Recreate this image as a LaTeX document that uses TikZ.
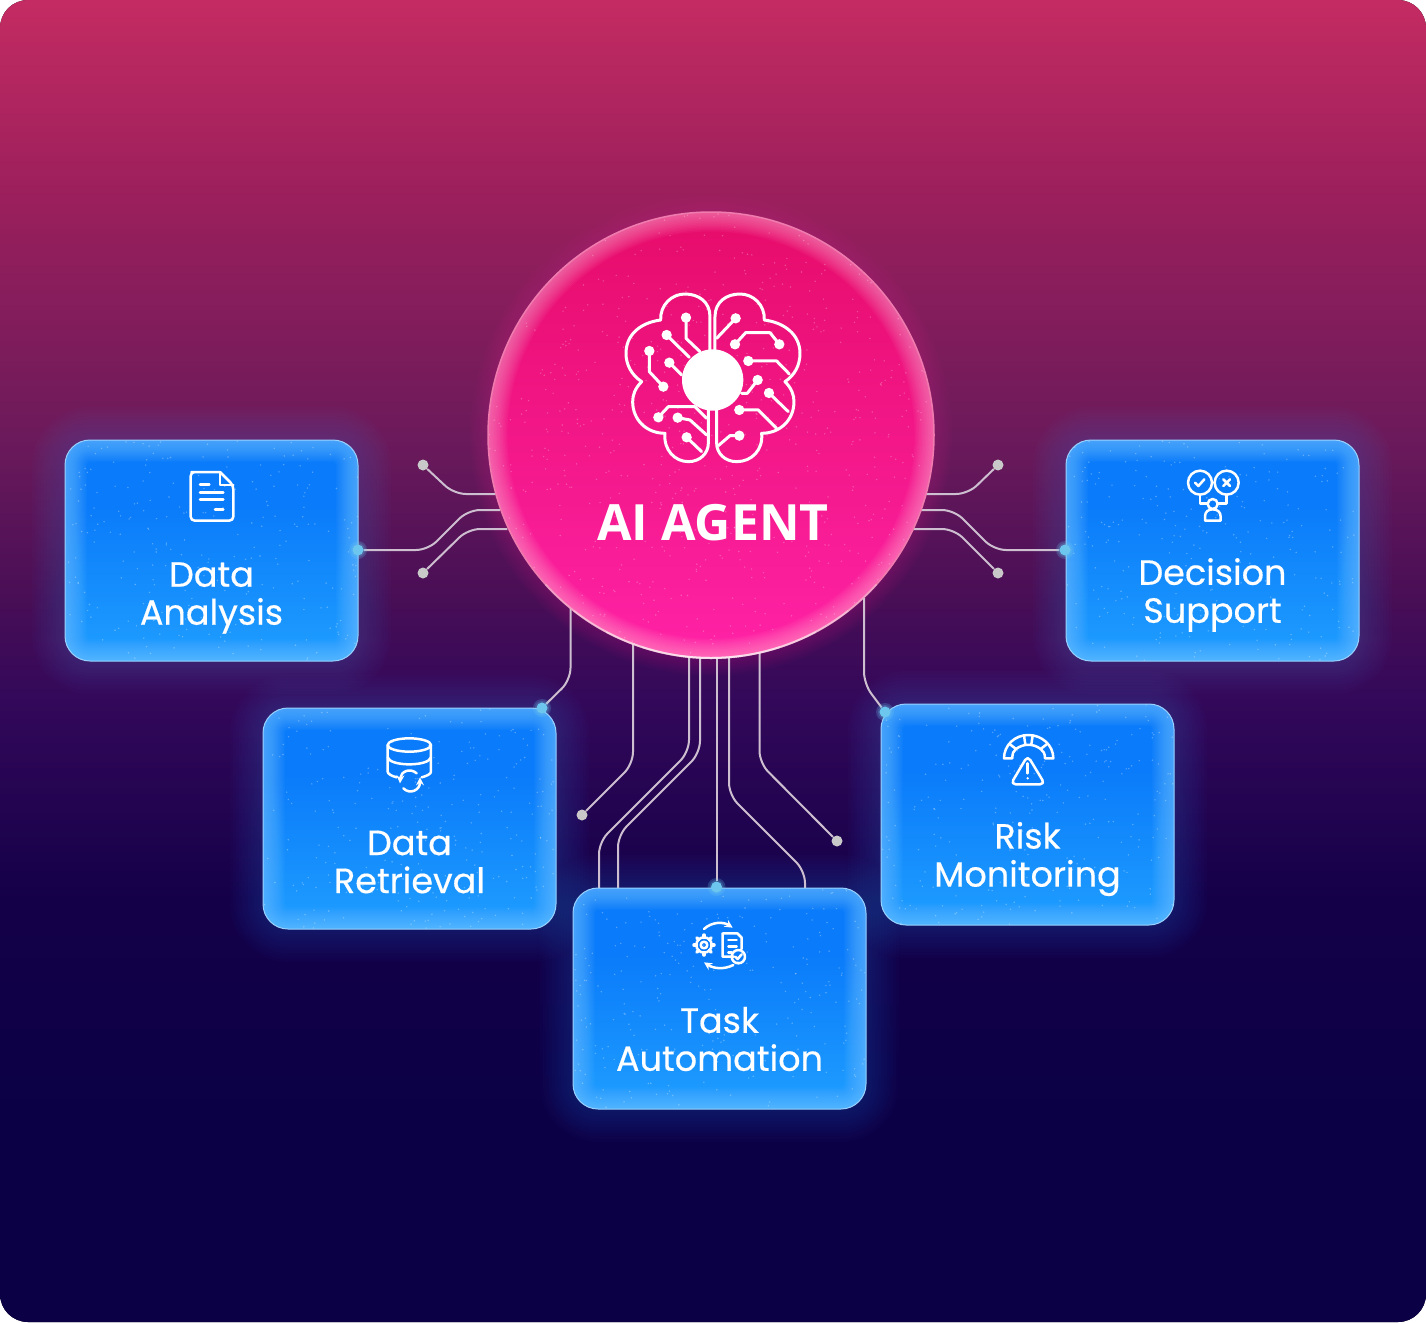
\documentclass[tikz,border=0pt]{standalone}
\usepackage{fontspec}
\usepackage{tikz}
\usetikzlibrary{positioning}
\setmainfont{Open Sans}
\newfontfamily\cardfont[FakeBold=0.45]{Poppins}

\definecolor{bgA}{HTML}{C42B62}
\definecolor{bgB}{HTML}{9A1F5C}
\definecolor{bgC}{HTML}{6B1A5B}
\definecolor{bgD}{HTML}{480E56}
\definecolor{bgE}{HTML}{33085A}
\definecolor{bgF}{HTML}{140049}
\definecolor{bgG}{HTML}{0B0046}
\definecolor{cardtop}{HTML}{0A7BFA}
\definecolor{cardbot}{HTML}{1F9EFF}
\definecolor{cardedge}{HTML}{7CCBFF}
\definecolor{cardrim}{HTML}{9AD2FF}
\definecolor{cardglow}{HTML}{3F86F5}
\definecolor{hubtop}{HTML}{E60C6A}
\definecolor{hubbot}{HTML}{FF22A6}
\definecolor{hubedge}{HTML}{FFB4D4}
\definecolor{hubrim}{HTML}{F07BAE}
\definecolor{hubglow}{HTML}{C5208C}
\definecolor{wirecol}{HTML}{CDBFD0}
\definecolor{dotcol}{HTML}{C9C9C9}
\definecolor{portcol}{HTML}{6CC6EE}

\pgfdeclareverticalshading{bgshade}{100bp}{color(0bp)=(bgG); color(25bp)=(bgG); color(33bp)=(bgG); color(41bp)=(bgF); color(48.5bp)=(bgE); color(52.3bp)=(bgD); color(58.4bp)=(bgC); color(67.4bp)=(bgB); color(75bp)=(bgA); color(100bp)=(bgA)}
\pgfdeclareverticalshading{cardshade}{100bp}{color(0bp)=(cardbot); color(25bp)=(cardbot); color(60bp)=(cardtop); color(75bp)=(cardtop); color(100bp)=(cardtop)}
\pgfdeclareverticalshading{hubshade}{100bp}{color(0bp)=(hubbot); color(25bp)=(hubbot); color(75bp)=(hubtop); color(100bp)=(hubtop)}

\pgfdeclarelayer{bg}
\pgfdeclarelayer{wires}
\pgfsetlayers{bg,wires,main}
\pgfmathsetseed{4711}

\tikzset{
  card/.style={rectangle, rounded corners=25, minimum width=293, minimum height=221, inner sep=0, outer sep=0,
    shading=cardshade, draw=cardrim, line width=1,
    path picture={
      \foreach \g in {2,4,...,44}
        \draw[cardedge, opacity=.04, line width=\g, rounded corners=25]
          (path picture bounding box.south west) rectangle (path picture bounding box.north east);
      \foreach \s in {1,...,260} {
        \pgfmathsetmacro{\rx}{146*rand}
        \pgfmathsetmacro{\ry}{110*rand}
        \fill[white, opacity=.3] ([shift={(\rx,\ry)}]path picture bounding box.center) circle[radius=.8];
      }
    }},
  cardtext/.style={font=\cardfont\fontsize{35}{38}\selectfont, text=white, align=center, inner sep=0},
  hubnode/.style={circle, minimum size=446, inner sep=0, outer sep=0, shading=hubshade, draw=hubrim, line width=1.5,
    path picture={
      \foreach \g in {3,6,...,39}
        \draw[hubedge, opacity=.05, line width=\g] (path picture bounding box.center) circle[radius=223];
      \foreach \s in {1,...,800} {
        \pgfmathsetmacro{\rx}{222*rand}
        \pgfmathsetmacro{\ry}{222*rand}
        \fill[white, opacity=.25] ([shift={(\rx,\ry)}]path picture bounding box.center) circle[radius=.8];
      }
    }},
  hubtext/.style={font=\fontsize{50}{50}\selectfont\bfseries, text=white, inner sep=0},
  wire/.style={wirecol, line width=2, rounded corners=12},
  enddot/.style={circle, fill=dotcol, minimum size=11, inner sep=0},
  port/.style={circle, fill=portcol, minimum size=11, inner sep=0},
  brain/.style={white, line width=3, line cap=round, line join=round},
  icon/.style={white, line width=2.5, line cap=round, line join=round},
}

\begin{document}
\begin{tikzpicture}[x=1pt, y=-1pt]
\useasboundingbox (0,0) rectangle (1426,1322);

% the five cards and the hub
\node[hubnode] (hub) at (711,435) {};
\node[card] (analysis) at (211.5,550.5) {};
\node[card] (support) at (1212.5,550.5) {};
\node[card] (retrieval) at (409.5,818.5) {};
\node[card] (monitor) at (1027.5,814.5) {};
\node[card] (task) at (719.5,998.5) {};

\foreach \a in {0,10,...,40}
  \draw[white, opacity=.28, line width=2] (hub.center) ++(-222-\a:223) arc[start angle=-222-\a, end angle=-318+\a, radius=223];

\begin{pgfonlayer}{bg}
\fill[shading=bgshade, rounded corners=28] (0,0) rectangle (1426,1322);
\foreach \g in {4,8,...,36}
  \draw[hubglow, opacity=.035, line width=\g] (hub.center) circle[radius=223];
\foreach \card in {analysis,support,retrieval,monitor,task}
  \foreach \g in {6,12,...,66}
    \draw[cardglow, opacity=.02, line width=\g, rounded corners=25, yshift=-10]
      (\card.south west) rectangle (\card.north east);
\end{pgfonlayer}

% card labels
\node[cardtext] (analysisT) at (211.5,598) {Data\\Analysis};
\node[cardtext] (supportT) at (1212.5,595) {Decision\\Support};
\node[cardtext] (retrievalT) at (409.5,862) {Data\\Retrieval};
\node[cardtext] (monitorT) at (1027.5,859) {Risk\\Monitoring};
\node[cardtext] (taskT) at (719.5,1039) {Task\\Automation};
\node[hubtext] (hubT) at (713,523) {AI AGENT};

% free ends
\node[enddot] (dotLa) at (423,465) {};
\node[enddot] (dotLb) at (423,573) {};
\node[enddot] (dotRa) at (998,465) {};
\node[enddot] (dotRb) at (998,573) {};
\node[enddot] (dotBa) at (582,815) {};
\node[enddot] (dotBb) at (837,841) {};

\foreach \name/\x/\y in {portA/358/550,portS/1065/550,portR/542/708,portM/885/712,portT/716.5/887} {
  \foreach \g in {16,12,8}
    \fill[portcol, opacity=.22] (\x,\y) circle[radius=\g/2+1];
  \node[port] (\name) at (\x,\y) {};
}

\begin{pgfonlayer}{wires}
\draw[wire] (dotLa) -- (454,494) -- (hub.195.34 |- 0,494);
\draw[wire] (portA) -- (428,550) -- (468,510) -- (hub.199.65 |- 0,510);
\draw[wire] (dotLb) -- (468,529) -- (hub.204.93 |- 0,529);
\draw[wire] (dotRa) -- (968,494) -- (hub.344.66 |- 0,494);
\draw[wire] (portS) -- (994,550) -- (954,510) -- (hub.340.35 |- 0,510);
\draw[wire] (dotRb) -- (954,529) -- (hub.335.07 |- 0,529);
\draw[wire] (portR) -- (570.5,680) -- (hub.230.95 -| 570.5,0);
\draw[wire] (dotBa) -- (633,764) -- (hub.249.53 -| 633,0);
\draw[wire] (task.north -| 599,0) -- (599,842) -- (689,752) -- (hub.264.34 -| 689,0);
\draw[wire] (task.north -| 618,0) -- (618,835) -- (700,753) -- (hub.267.17 -| 700,0);
\draw[wire] (portT) -- (hub.271.41 -| 716.5,0);
\draw[wire] (task.north -| 805,0) -- (805,871) -- (729,795) -- (hub.274.63 -| 729,0);
\draw[wire] (dotBb) -- (759.5,763) -- (hub.282.56 -| 759.5,0);
\draw[wire] (portM) -- (864,684) -- (hub.313.33 -| 864,0);
\end{pgfonlayer}

% brain
\begin{scope}[shift={(600,270)}, scale=.3333]
\fill[white] (338,330) circle[radius=92];
\draw[brain] (330,240) -- (330,140) .. controls (330,95) and (295,72) .. (255,72)
  .. controls (215,72) and (180,105) .. (182,150)
  .. controls (120,158) and (78,195) .. (78,250)
  .. controls (78,285) and (95,315) .. (125,335)
  .. controls (105,355) and (98,375) .. (98,395)
  .. controls (98,450) and (140,490) .. (195,490)
  .. controls (190,540) and (225,575) .. (265,575)
  .. controls (300,575) and (325,550) .. (325,520) -- (325,420);
\draw[brain] (345,240) -- (345,140) .. controls (345,95) and (380,72) .. (420,72)
  .. controls (460,72) and (495,105) .. (493,150)
  .. controls (555,158) and (600,195) .. (600,250)
  .. controls (600,285) and (585,315) .. (555,335)
  .. controls (575,355) and (582,375) .. (582,395)
  .. controls (582,450) and (540,490) .. (485,490)
  .. controls (490,540) and (455,575) .. (410,575)
  .. controls (375,575) and (350,550) .. (350,520) -- (350,420);
\draw[brain] (258,143) -- (258,205) -- (300,245);
\draw[brain] (200,195) -- (268,262);
\draw[brain] (208,278) -- (245,315);
\draw[brain] (148,243) -- (148,305) -- (190,350);
\draw[brain] (175,442) -- (205,410) -- (285,410) -- (320,445);
\draw[brain] (233,443) -- (270,450) -- (320,495);
\draw[brain] (260,502) -- (305,545);
\draw[brain] (407,145) -- (350,205);
\draw[brain] (405,223) -- (437,188) -- (510,188) -- (538,223);
\draw[brain] (445,273) -- (530,273) -- (568,312);
\draw[brain] (473,330) -- (442,370) -- (425,370);
\draw[brain] (507,369) -- (565,425);
\draw[brain] (418,420) -- (475,420) -- (530,475);
\draw[brain] (418,497) -- (390,497) -- (355,527);
\foreach \x/\y in {258/143,200/195,208/278,148/243,190/350,175/442,233/443,260/502,407/145,405/223,538/223,445/273,473/330,507/369,418/420,418/497}
  \fill[white] (\x,\y) circle[radius=15.5];
\end{scope}

% document icon
\begin{scope}[shift={(170,460)}, scale=.3333]
\draw[icon, rounded corners=4] (150,36) -- (76,36) -- (62,36) -- (62,182) -- (190,182) -- (190,76) -- (150,36);
\draw[icon] (150,36) -- (150,75) -- (190,75);
\draw[icon] (90,73) -- (118,73) (90,97) -- (160,97) (90,118) -- (160,118) (135,148) -- (160,148);
\end{scope}

% decision icon
\begin{scope}[shift={(1170,460)}, scale=.3333]
\draw[icon] (90,68) circle[radius=36] (170,68) circle[radius=36];
\draw[icon] (75,68) -- (85,78) -- (103,58);
\draw[icon] (160,58) -- (180,78) (180,58) -- (160,78);
\draw[icon] (90,104) -- (90,130) -- (113,130) (170,104) -- (170,130) -- (143,130);
\draw[icon] (128,132) circle[radius=15];
\draw[icon] (105,182) -- (105,170) .. controls (105,155) and (115,148) .. (128,148)
  .. controls (141,148) and (152,155) .. (152,170) -- (152,182) -- cycle;
\end{scope}

% database icon
\begin{scope}[shift={(370,730)}, scale=.3333]
\draw[icon] (118,45) ellipse[x radius=65, y radius=20];
\draw[icon] (53,45) -- (53,125) .. controls (53,132) and (65,138) .. (80,142);
\draw[icon] (183,45) -- (183,125) .. controls (183,132) and (170,138) .. (155,142);
\draw[icon] (53,82) .. controls (60,110) and (176,110) .. (183,82);
\draw[icon, -stealth] (140,130) .. controls (120,112) and (92,125) .. (90,160);
\draw[icon, -stealth] (100,175) .. controls (120,195) and (150,180) .. (150,142);
\end{scope}

% task icon
\begin{scope}[shift={(680,915)}, scale=.3333]
\draw[icon] (72,90) circle[radius=23] (72,90) circle[radius=10];
\foreach \a in {0,45,...,315}
  \draw[icon, line width=3.5] (72,90) ++(\a:23) -- ++(\a:7);
\draw[icon] (162,125) -- (128,125) -- (128,55) -- (172,55) -- (185,68) -- (185,102);
\draw[icon] (145,75) -- (170,75) (145,95) -- (170,95) (145,112) -- (155,112);
\draw[icon] (175,125) circle[radius=20];
\draw[icon] (166,125) -- (173,132) -- (185,118);
\draw[icon, -stealth] (72,42) .. controls (95,20) and (130,20) .. (158,38);
\draw[icon, -stealth] (160,150) .. controls (130,165) and (100,160) .. (72,142);
\end{scope}

% risk icon
\begin{scope}[shift={(990,725)}, scale=.3333]
\draw[icon] (42,100) .. controls (42,60) and (75,30) .. (115,30)
  .. controls (155,30) and (190,60) .. (190,100) -- (165,100)
  .. controls (165,85) and (160,78) .. (152,72)
  .. controls (130,55) and (100,55) .. (78,72)
  .. controls (70,78) and (67,85) .. (67,100) -- cycle;
\draw[icon] (60,58) -- (78,72) (102,32) -- (106,58) (128,32) -- (124,58) (170,58) -- (152,72);
\draw[icon, rounded corners=5] (113,92) -- (62,178) -- (165,178) -- cycle;
\draw[icon] (113,115) -- (113,145);
\fill[white] (113,160) circle[radius=4];
\end{scope}
\end{tikzpicture}
\end{document}
